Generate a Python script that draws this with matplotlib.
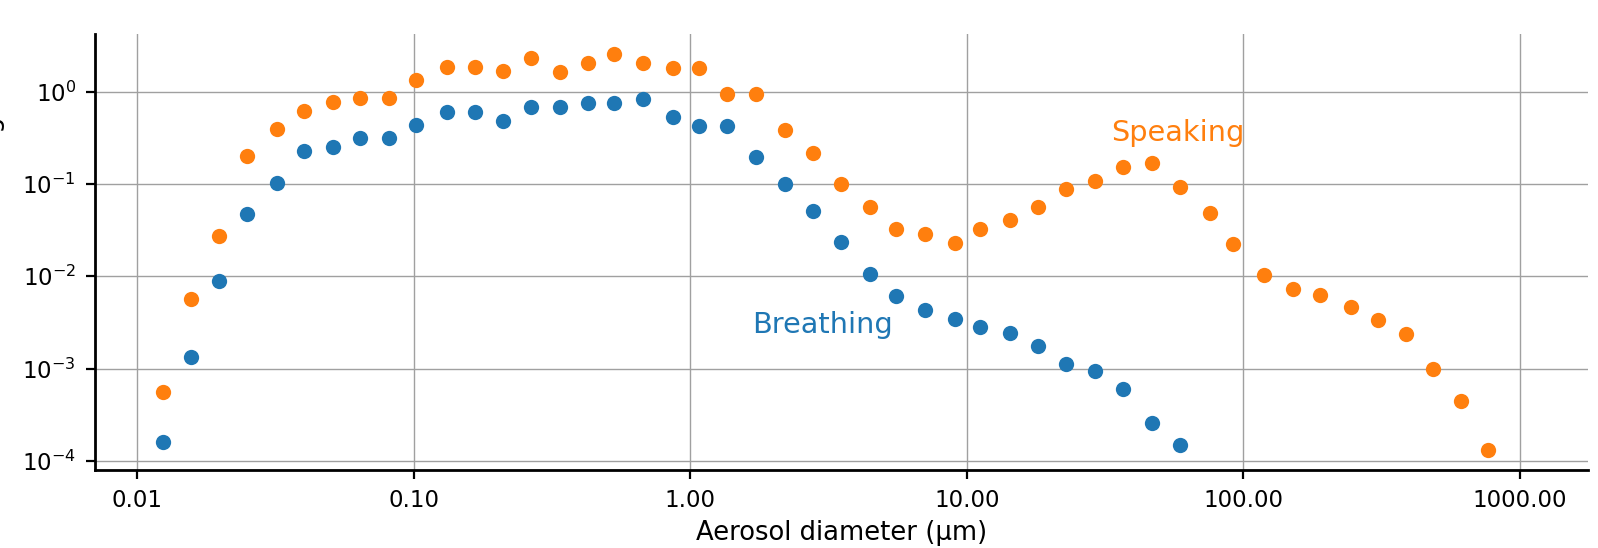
import matplotlib
matplotlib.use("Agg")
import matplotlib.pyplot as plt
from matplotlib.ticker import FormatStrFormatter, FixedLocator, NullLocator

# ---- data ----
diameter_um = [0.0124, 0.0157, 0.0198, 0.0250, 0.0320, 0.0402, 0.0511, 0.0642,
               0.0815, 0.102, 0.1325, 0.166, 0.211, 0.265, 0.337, 0.426,
               0.530, 0.676, 0.863, 1.08, 1.355, 1.73, 2.20, 2.78,
               3.51, 4.48, 5.55, 7.08, 9.03, 11.2, 14.35, 18.05,
               22.85, 29.0, 36.6, 46.7, 59.0, 75.5, 91.9, 119.0,
               151.0, 189.0, 246.0, 307.0, 387.0, 486.0, 612.0, 769.0]

speaking = [5.5e-4, 5.7e-3, 0.0272, 0.202, 0.394, 0.617, 0.766, 0.853,
            0.853, 1.34, 1.85, 1.85, 1.66, 2.30, 1.65, 2.06,
            2.58, 2.05, 1.83, 1.82, 0.936, 0.936, 0.381, 0.217,
            0.100, 0.0569, 0.0323, 0.029, 0.0232, 0.0323, 0.0404, 0.0564,
            0.0875, 0.109, 0.152, 0.169, 0.092, 0.049, 0.0226, 0.01026,
            0.0073, 0.00622, 0.00469, 0.00334, 0.00239, 9.8e-4, 4.5e-4, 1.30e-4]

breathing = [1.6e-4, 1.34e-3, 8.9e-3, 0.0475, 0.103, 0.225, 0.251, 0.314,
             0.314, 0.435, 0.607, 0.607, 0.485, 0.676, 0.676, 0.753,
             0.753, 0.833, 0.532, 0.425, 0.425, 0.194, 0.100, 0.051,
             0.0233, 0.0106, 0.00607, 0.00435, 0.00345, 0.00283, 0.00245, 0.00176,
             0.00113, 9.5e-4, 5.97e-4, 2.6e-4, 1.49e-4]

x_ticks = [0.01, 0.1, 1, 10, 100, 1000]
series_names = ["Breathing", "Speaking"]
xlabel = "Aerosol diameter (µm)"
ylabel = "Concentration dN/dlogD"

# ---- figure ----
fig = plt.figure(figsize=(15.98, 5.48), dpi=100)
ax = fig.add_axes([0.0593, 0.1423, 0.9344, 0.7964])

blue = "#1f77b4"
orange = "#ff7f0e"

ax.plot(diameter_um[:len(breathing)], breathing, "o", color=blue, ms=11, mew=0, zorder=3)
ax.plot(diameter_um, speaking, "o", color=orange, ms=11, mew=0, zorder=3)

ax.set_xscale("log")
ax.set_yscale("log")
ax.set_xlim(10 ** -2.153, 10 ** 3.246)
ax.set_ylim(10 ** -4.10, 10 ** 0.63)

ax.xaxis.set_major_locator(FixedLocator(x_ticks))
ax.xaxis.set_major_formatter(FormatStrFormatter("%.2f"))
ax.xaxis.set_minor_locator(NullLocator())
ax.yaxis.set_minor_locator(NullLocator())

ax.grid(True, which="major", color="#a0a0a0", linewidth=1.0)
ax.set_axisbelow(True)

for side in ["top", "right"]:
    ax.spines[side].set_visible(False)
for side in ["left", "bottom"]:
    ax.spines[side].set_linewidth(2.0)

ax.tick_params(axis="both", which="major", length=6.8, width=1.6,
               labelsize=16.5, pad=6.8)

ax.set_xlabel(xlabel, fontsize=18.6, labelpad=6)
ax.set_ylabel(ylabel, fontsize=18.6, labelpad=12.5)

ax.text(33.2, 0.292, series_names[1], color=orange, fontsize=20.7,
        ha="left", va="baseline")
ax.text(1.67, 0.00242, series_names[0], color=blue, fontsize=20.7,
        ha="left", va="baseline")

fig.savefig("out.png", dpi=100)
